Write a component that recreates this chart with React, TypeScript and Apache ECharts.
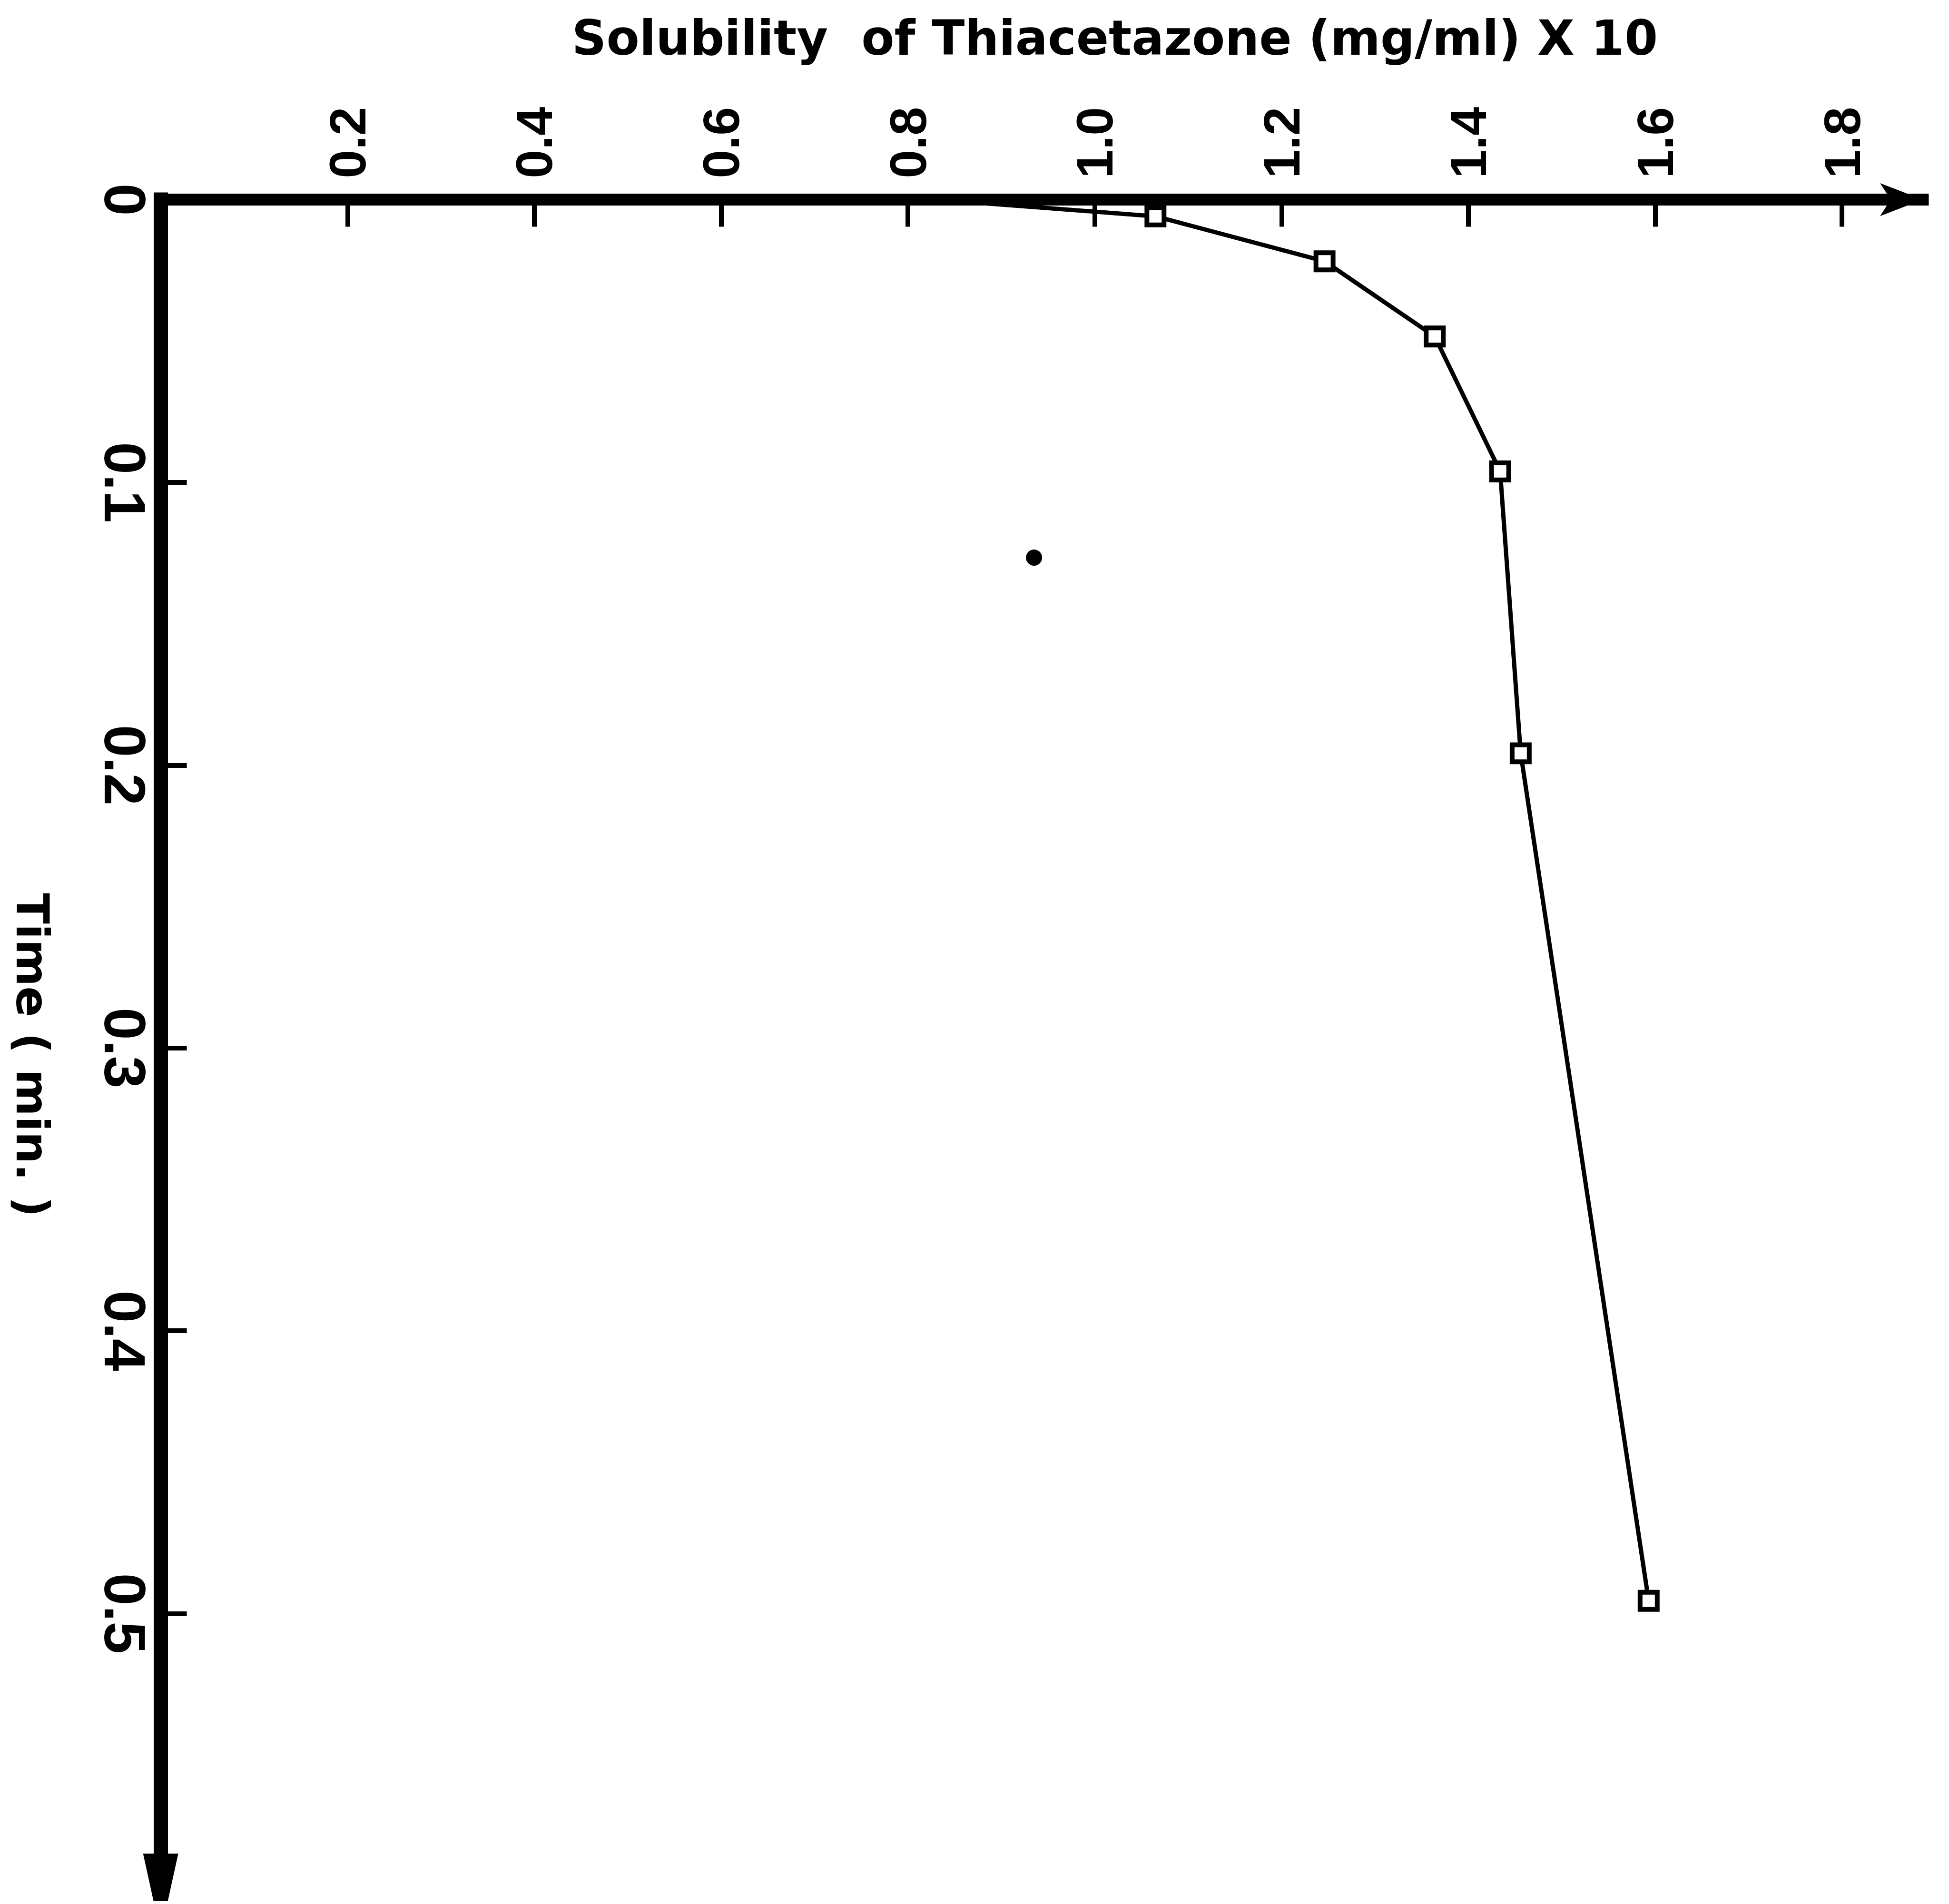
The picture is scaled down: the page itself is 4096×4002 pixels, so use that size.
import React, { useEffect, useRef } from "react";
import * as echarts from "echarts";

// Solubility of thiacetazone (mg/ml x 10) measured against time (min)
const solubility = [0.83, 1.065, 1.246, 1.364, 1.434, 1.456, 1.593];
const time = [0, 0.0059, 0.0218, 0.0484, 0.0961, 0.1958, 0.4955];
// the curve leaves the solubility axis without a plotted marker
const hasMarker = [false, true, true, true, true, true, true];

// stray ink blot on the sheet
const inkBlot = [[0.935, 0.1266]];

const solubilityTicks = [0.2, 0.4, 0.6, 0.8, 1.0, 1.2, 1.4, 1.6, 1.8];
const timeTicks = [0.1, 0.2, 0.3, 0.4, 0.5];
const timeLabels = [0, 0.1, 0.2, 0.3, 0.4, 0.5];

const TITLE = "Solubility  of Thiacetazone (mg/ml) X 10";
const Y_NAME = "Time ( min. )";

const W = 4096;
const H = 4002;
const S = 0.999;

export default function App() {
  const ref = useRef<HTMLDivElement>(null);

  useEffect(() => {
    if (!ref.current) return;
    const chart = echarts.init(ref.current, undefined, { renderer: "svg" });

    const left = 338 * S;
    const top = 420 * S;
    const right = W - 4045 * S;
    const bottom = H - 3950 * S;

    chart.setOption({
      animation: false,
      backgroundColor: "#ffffff",
      title: {
        text: TITLE,
        left: 1203 * S,
        top: 30 * S,
        padding: 0,
        textStyle: {
          fontFamily: "DejaVu Sans",
          fontWeight: "bold",
          fontSize: 101 * S,
          color: "#000",
        },
      },
      grid: { left, top, right, bottom, containLabel: false },
      xAxis: {
        type: "value",
        position: "top",
        min: 0,
        max: 1.8865,
        axisLine: {
          show: true,
          onZero: false,
          symbol: ["none", "arrow"],
          symbolSize: [52 * S, 90 * S],
          lineStyle: { color: "#000", width: 25 * S, cap: "square" },
        },
        axisTick: {
          show: true,
          inside: true,
          length: 57 * S,
          customValues: solubilityTicks,
          lineStyle: { color: "#000", width: 10 * S },
        },
        axisLabel: {
          show: true,
          customValues: solubilityTicks,
          rotate: -90,
          margin: 45 * S,
          fontFamily: "Liberation Sans",
          fontWeight: "bold",
          fontSize: 108 * S,
          color: "#000",
          formatter: (v: number) => v.toFixed(1),
        },
        splitLine: { show: false },
      },
      yAxis: {
        type: "value",
        inverse: true,
        min: 0,
        max: 0.5933,
        name: Y_NAME,
        nameLocation: "middle",
        nameRotate: -90,
        nameGap: 222 * S,
        nameTextStyle: {
          fontFamily: "DejaVu Sans",
          fontWeight: "bold",
          fontSize: 95 * S,
          color: "#000",
          padding: [0, 0, 0, 70 * S],
        },
        axisLine: {
          show: true,
          onZero: false,
          symbol: ["path://M22,0 L52,0 L74,100 L0,100 Z", "none"],
          symbolSize: [74 * S, 100 * S],
          lineStyle: { color: "#000", width: 30 * S, cap: "square" },
        },
        axisTick: {
          show: true,
          inside: true,
          length: 55 * S,
          customValues: timeTicks,
          lineStyle: { color: "#000", width: 10 * S },
        },
        axisLabel: {
          show: true,
          customValues: timeLabels,
          rotate: -90,
          margin: 15 * S,
          fontFamily: "Liberation Sans",
          fontWeight: "bold",
          fontSize: 122 * S,
          color: "#000",
          formatter: (v: number) => (v === 0 ? "0" : v.toFixed(1)),
        },
        splitLine: { show: false },
      },
      series: [
        {
          type: "line",
          data: solubility.map((x, i) => ({
            value: [x, time[i]],
            symbol: hasMarker[i] ? "rect" : "none",
          })),
          symbol: "rect",
          symbolSize: 36 * S,
          showSymbol: true,
          lineStyle: { color: "#000", width: 9 * S },
          itemStyle: { color: "#fff", borderColor: "#000", borderWidth: 10 * S },
          z: 3,
          silent: true,
        },
        {
          type: "scatter",
          data: inkBlot,
          symbol: "circle",
          symbolSize: 34 * S,
          itemStyle: { color: "#000", opacity: 1 },
          silent: true,
        },
      ],
    });

    return () => chart.dispose();
  }, []);

  return (
    <div
      ref={ref}
      style={{ position: "absolute", left: 0, top: 0, width: W, height: H }}
    />
  );
}
